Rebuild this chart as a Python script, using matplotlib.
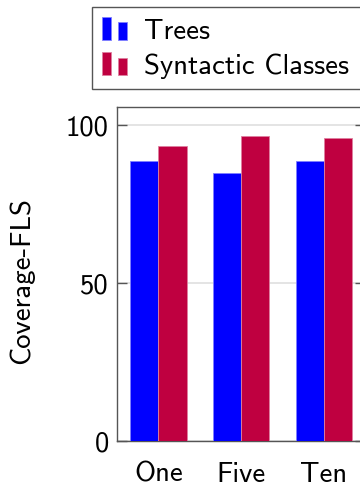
import numpy as np
import matplotlib
matplotlib.use('Agg')
import matplotlib.pyplot as plt
from matplotlib.patches import Rectangle
from matplotlib.legend_handler import HandlerBase

categories = ['One', 'Five', 'Ten']
trees = [88.5, 84.7, 88.5]
syntactic = [93.4, 96.3, 95.8]
series_labels = ['Trees', 'Syntactic Classes']

plt.rcParams['font.family'] = ['cmss10', 'DejaVu Sans']
plt.rcParams['axes.formatter.use_mathtext'] = True

blue, blue_edge = '#0000ff', '#8080ff'
red, red_edge = '#bf0040', '#df809f'
fs = 20.7


class TwoBarHandler(HandlerBase):
    # pgfplots-like ybar legend image: a tall bar and a shorter one
    def create_artists(self, legend, orig_handle, xdescent, ydescent,
                       width, height, fontsize, trans):
        fc = orig_handle.get_facecolor()
        ec = orig_handle.get_edgecolor()
        w = width * 0.36
        r1 = Rectangle((-xdescent, -ydescent), w, height,
                       facecolor=fc, edgecolor=ec, lw=0.6, transform=trans)
        r2 = Rectangle((-xdescent + width - w, -ydescent), w, height * 0.76,
                       facecolor=fc, edgecolor=ec, lw=0.6, transform=trans)
        return [r1, r2]


W, H = 360, 485
fig = plt.figure(figsize=(W / 100, (H + 0.5) / 100), dpi=100)
ax = fig.add_axes([117 / W, 44 / H, 248.4 / W, 334 / H])

x = np.arange(len(categories))
bw = 0.34
b1 = ax.bar(x - bw / 2, trees, bw, color=blue, edgecolor=blue_edge, lw=0.6, zorder=3)
b2 = ax.bar(x + bw / 2, syntactic, bw, color=red, edgecolor=red_edge, lw=0.6, zorder=3)

ax.set_xlim(-0.5, 2.5)
ax.set_ylim(0, 105.7)
ax.set_xticks(x)
ax.set_xticklabels(categories, fontsize=fs)
ax.set_yticks([0, 50, 100])
ax.set_yticklabels(['0', '50', '100'], fontsize=fs)
ax.tick_params(axis='y', direction='in', length=7, width=1, color='#555555',
               right=True, pad=6)
ax.tick_params(axis='x', length=0, pad=14.5)
ax.yaxis.grid(True, color='#dcdcdc', lw=1.1)
ax.set_axisbelow(True)
for s in ax.spines.values():
    s.set_color('#555555')
    s.set_linewidth(1.0)
# the right border lies past the canvas edge
ax.spines['right'].set_visible(False)

ax.set_ylabel('Coverage-FLS', fontsize=fs)
ax.yaxis.set_label_coords(-0.335, 0.48)

fig.legend([b1.patches[0], b2.patches[0]], series_labels,
           handler_map={Rectangle: TwoBarHandler()},
           loc='upper left', bbox_to_anchor=(91.7 / W, 1 - 7 / H, 300 / W, 0),
           mode='expand', fontsize=fs, frameon=True, fancybox=False,
           edgecolor='#555555', framealpha=1, borderaxespad=0,
           borderpad=0.35, handlelength=0.88, handleheight=0.88,
           handletextpad=0.6, labelspacing=0.3)
fig.legends[0].get_frame().set_linewidth(1.0)

fig.savefig('out.png', dpi=100)
